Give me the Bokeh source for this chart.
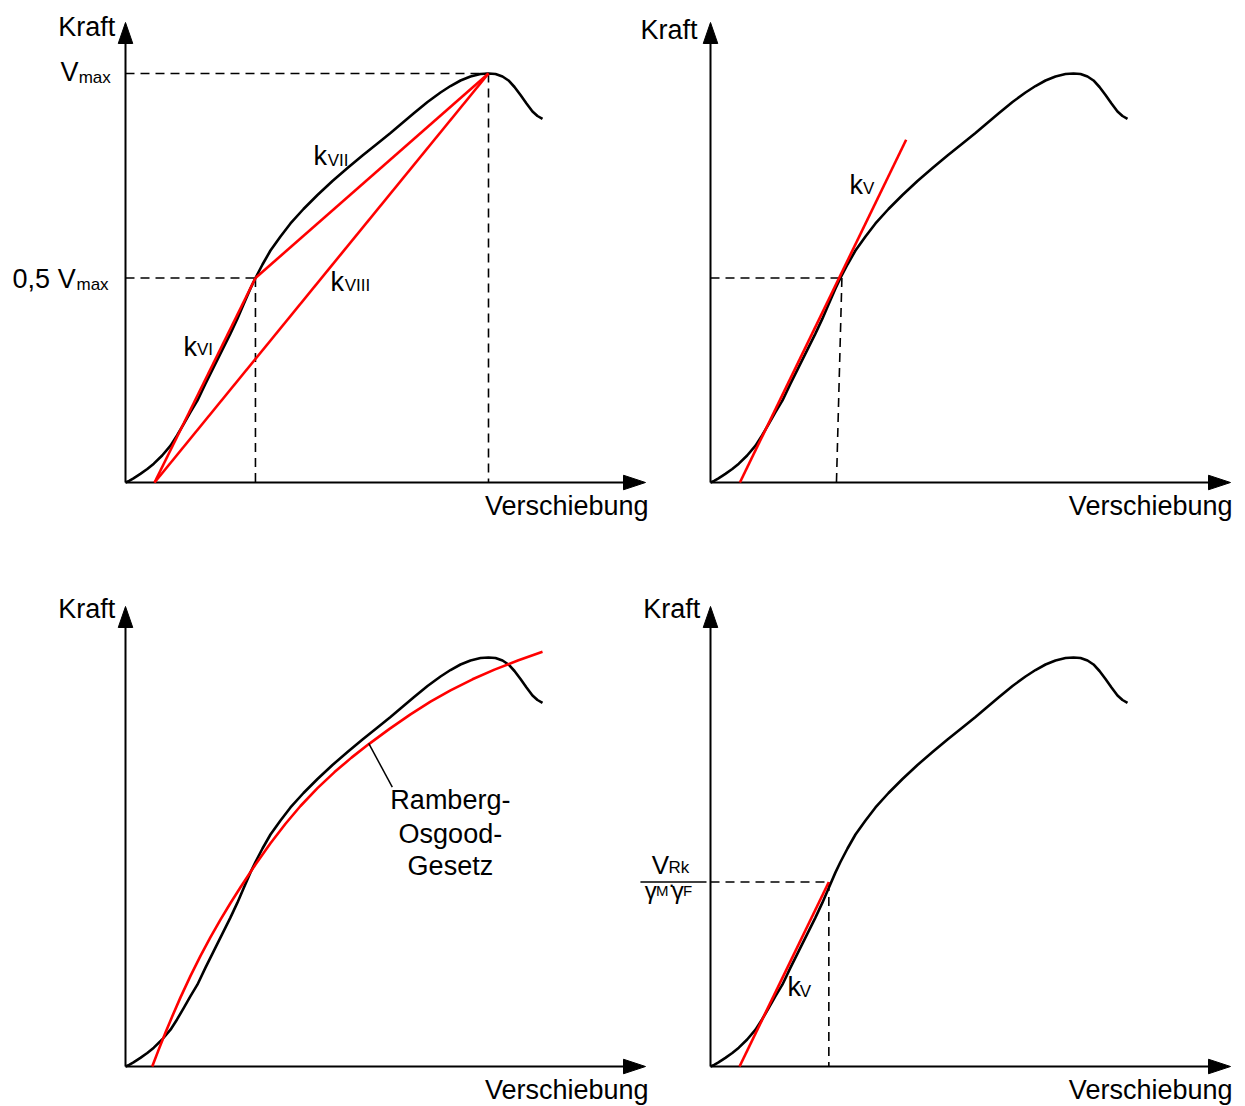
from bokeh.plotting import figure
from bokeh.models import Range1d, Label
from bokeh.embed import file_html
from bokeh.resources import INLINE

# ---------------- data (normalised: displacement / displacement at V_max, force / V_max) -------------
# measured load-displacement curve (same in all four panels)
curve_d = [0.0, 0.010, 0.022, 0.041, 0.060, 0.078, 0.101, 0.124, 0.142, 0.161, 0.179, 0.198,
           0.220, 0.243, 0.266, 0.289, 0.308, 0.326, 0.344, 0.358,
           0.3774, 0.3994, 0.4270, 0.4545, 0.4904, 0.5289, 0.5702, 0.6116, 0.6529, 0.6942,
           0.7300, 0.7576, 0.7934, 0.8320, 0.8678, 0.8953, 0.9229, 0.9504, 0.9780, 1.0000,
           1.0193, 1.0386, 1.0551, 1.0716, 1.0882, 1.1047, 1.1212, 1.1350, 1.1488]
curve_F = [0.0, 0.004, 0.010, 0.021, 0.033, 0.046, 0.066, 0.090, 0.115, 0.144, 0.172, 0.200,
           0.241, 0.282, 0.323, 0.364, 0.400, 0.437, 0.474, 0.500,
           0.5330, 0.5672, 0.6015, 0.6333, 0.6687, 0.7029, 0.7372, 0.7689, 0.7995, 0.8289,
           0.8545, 0.8753, 0.9022, 0.9303, 0.9535, 0.9694, 0.9829, 0.9927, 0.9988, 1.0000,
           0.9988, 0.9927, 0.9829, 0.9670, 0.9474, 0.9267, 0.9071, 0.8961, 0.8888]
# Ramberg-Osgood fit (panel bottom-left)
ro_d = [0.0736, 0.0909, 0.1102, 0.1295, 0.1515, 0.1791, 0.2066, 0.2342, 0.2617, 0.2893,
        0.3168, 0.3581, 0.3994, 0.4408, 0.4821, 0.5289, 0.5758, 0.6226, 0.6694, 0.7273,
        0.7851, 0.8402, 0.8953, 0.9559, 1.0165, 1.0826, 1.1488]
ro_F = [0.0, 0.0401, 0.0829, 0.1240, 0.1690, 0.2215, 0.2704, 0.3161, 0.3592, 0.3998,
        0.4381, 0.4939, 0.5460, 0.5936, 0.6369, 0.6806, 0.7198, 0.7552, 0.7877, 0.8256,
        0.8611, 0.8919, 0.9198, 0.9467, 0.9704, 0.9934, 1.0139]
# secant stiffnesses (panel top-left)
v_max = 1.0
v_half = 0.5
d_vmax = 1.0
d_half = 0.358
d_start = 0.080
k_vi_d, k_vi_F = [d_start, d_half], [0.0, v_half]
k_vii_d, k_vii_F = [d_half, d_vmax], [v_half, v_max]
k_viii_d, k_viii_F = [d_start, d_vmax], [0.0, v_max]
# tangent stiffness k_V (panel top-right)
kv2_d, kv2_F = [0.081, 0.539], [0.0, 0.838]
kv2_ref_d_top, kv2_ref_d_bot, kv2_ref_F = 0.362, 0.347, 0.5
# k_V up to design load V_Rk/(gM*gF) (panel bottom-right)
kv4_d, kv4_F = [0.080, 0.326], [0.0, 0.451]
# leader line for Ramberg-Osgood label
lead_d, lead_F = [0.670, 0.735], [0.790, 0.683]

# ---------------- layout / style -------------
W, H = 1245, 1106
SX, SY = 363.0, 409.0          # px per normalised unit
ORIG_X = {"L": 125, "R": 710}  # panel origins, px from left
ORIG_Y = {"T": 482, "B": 1066} # panel origins, px from top
X_END, Y_END = 520 / SX, 460 / SY
HEAD_L, HEAD_W = 21, 14.5
FONT = "Liberation Sans"
FS, FS_SUB = "27px", "17px"
TEXT_DY = 10 / SY              # baseline correction
RED = "#ff0000"
DASH = "9 6"

xr = {k: Range1d(-v / SX, (W - v) / SX) for k, v in ORIG_X.items()}
yr = {k: Range1d(-(H - v) / SY, v / SY) for k, v in ORIG_Y.items()}

p = figure(width=W, height=H, x_range=xr["L"], y_range=yr["T"],
           extra_x_ranges={"R": xr["R"]}, extra_y_ranges={"B": yr["B"]},
           x_axis_type=None, y_axis_type=None, min_border=0,
           toolbar_location=None, output_backend="svg",
           outline_line_color=None, background_fill_color="white",
           border_fill_color="white")


def rk(col, row):
    return dict(x_range_name="default" if col == "L" else "R",
                y_range_name="default" if row == "T" else "B")


def txt(kw, x, y, text, size=FS, align="left"):
    p.add_layout(Label(x=x, y=y + TEXT_DY, text=text, text_font=FONT, text_font_size=size,
                       text_align=align, text_baseline="alphabetic", text_color="black",
                       x_range_name=kw["x_range_name"], y_range_name=kw["y_range_name"]))


def axes(kw):
    p.line([0, 0], [0, Y_END - HEAD_L / SY], line_color="black", line_width=2, **kw)
    p.line([0, X_END - HEAD_L / SX], [0, 0], line_color="black", line_width=2, **kw)
    p.patch([-HEAD_W / 2 / SX, HEAD_W / 2 / SX, 0],
            [Y_END - HEAD_L / SY, Y_END - HEAD_L / SY, Y_END],
            fill_color="black", line_color="black", line_width=1, **kw)
    p.patch([X_END - (HEAD_L + 1) / SX, X_END - (HEAD_L + 1) / SX, X_END],
            [-HEAD_W / 2 / SY, HEAD_W / 2 / SY, 0],
            fill_color="black", line_color="black", line_width=1, **kw)


def dashed(kw, xs, ys):
    p.line(xs, ys, line_color="black", line_width=1.6, line_dash=DASH, **kw)


def black_curve(kw):
    p.line(curve_d, curve_F, line_color="black", line_width=2.6, line_join="round", **kw)


# ---------- panel 1: top-left ----------
k1 = rk("L", "T")
dashed(k1, [0, d_vmax], [v_max, v_max])
dashed(k1, [d_vmax, d_vmax], [v_max, 0])
dashed(k1, [0, d_half], [v_half, v_half])
dashed(k1, [d_half, d_half], [v_half, 0])
axes(k1)
black_curve(k1)
for xs, ys in [(k_vi_d, k_vi_F), (k_vii_d, k_vii_F), (k_viii_d, k_viii_F)]:
    p.line(xs, ys, line_color=RED, line_width=2.6, **k1)
txt(k1, -0.028, 1.090, "Kraft", align="right")
txt(k1, -0.179, 0.978, "V")
txt(k1, -0.129, 0.966, "max", FS_SUB)
txt(k1, -0.311, 0.472, "0,5 V")
txt(k1, -0.135, 0.460, "max", FS_SUB)
txt(k1, 0.518, 0.773, "k")
txt(k1, 0.557, 0.763, "VII", FS_SUB)
txt(k1, 0.565, 0.465, "k")
txt(k1, 0.604, 0.457, "VIII", FS_SUB)
txt(k1, 0.160, 0.308, "k")
txt(k1, 0.197, 0.301, "VI", FS_SUB)
txt(k1, 1.441, -0.081, "Verschiebung", align="right")

# ---------- panel 2: top-right ----------
k2 = rk("R", "T")
dashed(k2, [0, kv2_ref_d_top], [kv2_ref_F, kv2_ref_F])
dashed(k2, [kv2_ref_d_top, kv2_ref_d_bot], [kv2_ref_F, 0])
axes(k2)
black_curve(k2)
p.line(kv2_d, kv2_F, line_color=RED, line_width=2.6, **k2)
txt(k2, -0.036, 1.081, "Kraft", align="right")
txt(k2, 0.383, 0.702, "k")
txt(k2, 0.420, 0.694, "V", FS_SUB)
txt(k2, 1.438, -0.081, "Verschiebung", align="right")

# ---------- panel 3: bottom-left ----------
k3 = rk("L", "B")
axes(k3)
black_curve(k3)
p.line(ro_d, ro_F, line_color=RED, line_width=2.6, line_join="round", **k3)
p.line(lead_d, lead_F, line_color="black", line_width=1.5, **k3)
txt(k3, -0.028, 1.095, "Kraft", align="right")
for yy, t in zip([0.626, 0.545, 0.465], ["Ramberg-", "Osgood-", "Gesetz"]):
    txt(k3, 0.895, yy, t, align="center")
txt(k3, 1.441, -0.081, "Verschiebung", align="right")

# ---------- panel 4: bottom-right ----------
k4 = rk("R", "B")
dashed(k4, [0, kv4_d[1]], [kv4_F[1], kv4_F[1]])
dashed(k4, [kv4_d[1], kv4_d[1]], [kv4_F[1], 0])
axes(k4)
black_curve(k4)
p.line(kv4_d, kv4_F, line_color=RED, line_width=2.6, **k4)
p.line([-0.193, -0.011], [kv4_F[1], kv4_F[1]], line_color="black", line_width=1.5, **k4)
txt(k4, -0.028, 1.095, "Kraft", align="right")
txt(k4, -0.162, 0.469, "V", "26px")
txt(k4, -0.116, 0.462, "Rk", FS_SUB)
txt(k4, -0.181, 0.406, "γ", "24px")
txt(k4, -0.150, 0.406, "M", "15px")
txt(k4, -0.117, 0.420, "·", "22px")
txt(k4, -0.107, 0.406, "γ", "24px")
txt(k4, -0.076, 0.406, "F", "15px")
txt(k4, 0.212, 0.169, "k")
txt(k4, 0.246, 0.159, "V", FS_SUB)
txt(k4, 1.438, -0.081, "Verschiebung", align="right")

open("out.html", "w").write(file_html(p, INLINE))
